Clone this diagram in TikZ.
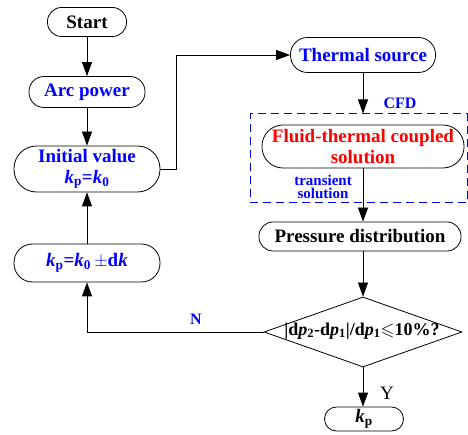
\documentclass[tikz,border=0pt]{standalone}
\usepackage{fontspec}
\setmainfont{Liberation Serif}
\usepackage{amssymb}
\usetikzlibrary{shapes.geometric,arrows.meta}
\definecolor{tblue}{RGB}{0,0,255}
\definecolor{tred}{RGB}{255,0,0}
\newcommand{\kk}[1]{\textit{k}\textsubscript{#1}}
\newcommand{\pp}[1]{\textit{p}\textsubscript{#1}}
\begin{document}
\begin{tikzpicture}[x=1pt,y=1pt,
  pill/.style={draw, line width=0.8pt, rectangle, rounded corners=#1, inner sep=0pt, align=center,
    font=\fontsize{19}{21}\selectfont\bfseries},
  arr/.style={line width=0.8pt, -{Triangle[length=14pt,width=10pt]}},
  plain/.style={line width=0.8pt},
  lbl/.style={font=\fontsize{16}{13.5}\selectfont\bfseries, text=tblue, align=center, inner sep=0pt},
  dashbox/.style={draw=tblue, line width=1pt, dash pattern=on 8pt off 5pt, rectangle, inner sep=0pt},
  decision/.style={draw, line width=0.8pt, diamond, inner sep=0pt}]
\useasboundingbox (0,0) rectangle (468,-435);

\node[pill=14, minimum width=79, minimum height=29] (start) at (87,-22) {Start};
\node[pill=15, minimum width=116, minimum height=31, text=tblue] (arc) at (87,-92) {Arc power};
\node[pill=22.5, minimum width=146, minimum height=46, text=tblue] (init) at (87,-169) {Initial value\\\kk{p}=\kk{0}};
\node[pill=18.5, minimum width=146, minimum height=38, text=tblue] (kpk) at (87,-263) {\kk{p}=\kk{0}\,$\pm$d\textit{k}};

\node[pill=17, minimum width=145, minimum height=35, text=tblue] (thermal) at (363,-55) {Thermal source};
\node[dashbox, minimum width=217, minimum height=89] (cfdbox) at (358.5,-158.5) {};
\node[pill=21, minimum width=202, minimum height=43, text=tred] (fluid) at (363,-146.5) {Fluid-thermal coupled\\solution};
\node[pill=14, minimum width=202, minimum height=29] (press) at (360,-236.5) {Pressure distribution};
\node[decision, minimum width=198, minimum height=70] (dec) at (363,-332) {};
\node[font=\fontsize{18}{20}\selectfont\bfseries, inner sep=0pt] (dectext) at (362,-331) {|d\pp{2}-d\pp{1}|/d\pp{1}$\leqslant$10\%?};
\node[pill=12, minimum width=79, minimum height=24] (kend) at (364,-419) {\kk{p}};

\node[lbl] (cfd) at (400,-103) {CFD};
\node[lbl, font=\fontsize{15}{15}\selectfont\bfseries, anchor=base] (trans1) at (323,-185.5) {transient};
\node[lbl, font=\fontsize{15}{15}\selectfont\bfseries, anchor=base] (trans2) at (323,-199) {solution};
\node[lbl] (nlab) at (196,-319) {N};
\node[font=\fontsize{19}{19}\selectfont, inner sep=0pt] (ylab) at (387,-393) {Y};

\coordinate (j1) at (176,0);

\draw[arr] (start) -- (arc);
\draw[arr] (arc) -- (init);
\draw[arr] (kpk) -- (init);
\draw[arr] (init.east) -- (init.east -| j1) |- (thermal.west);
\draw[arr] (thermal.south) -- (thermal.south |- cfdbox.north);
\draw[arr] (fluid.south) -- (fluid.south |- press.north);
\draw[arr] (press.south -| dec.north) -- (dec.north);
\draw[arr] (dec.south) -- (kend.north -| dec.south);
\draw[arr] (dec.west) -- (dec.west -| kpk.south) -- (kpk.south);
\end{tikzpicture}
\end{document}
